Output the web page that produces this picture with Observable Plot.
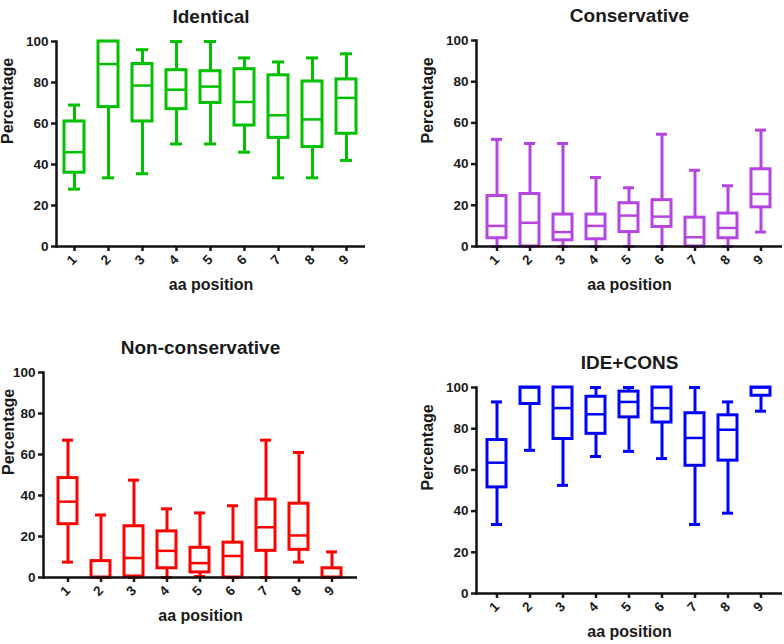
<!DOCTYPE html>
<html><head><meta charset="utf-8">
<script src="https://cdn.jsdelivr.net/npm/d3@7"></script>
<script src="https://cdn.jsdelivr.net/npm/@observablehq/plot@0.6"></script>
<style>
body{margin:0;background:#fff;}
#wrap{position:relative;width:784px;height:644px;overflow:hidden;background:#fff;}
.panel{position:absolute;}
</style></head><body><div id="wrap"></div>
<script>
// categories
const positions = ["1","2","3","4","5","6","7","8","9"];
const yTicks = [0, 20, 40, 60, 80, 100];
// box statistics per aa position: [min, q1, median, q3, max]
const identical = [
  [28, 36, 46, 61, 69],
  [33.5, 68, 89, 100, 100],
  [35.5, 61, 78.5, 89, 96],
  [50, 67, 76.5, 86, 100],
  [50, 70, 78, 85.5, 100],
  [46, 59, 70.5, 86.5, 92],
  [33.5, 53, 64, 83.5, 90],
  [33.5, 48.5, 62, 80.5, 92],
  [42, 55, 72.5, 81.5, 94]
];
const conservative = [
  [0, 4, 10, 24.5, 52],
  [0, 0, 11.5, 25.5, 50],
  [0, 3, 7, 15.5, 50],
  [0, 3.5, 10, 15.5, 33.5],
  [0, 7, 15, 21, 28.5],
  [0, 9.5, 14.5, 22.5, 54.5],
  [0, 0, 4.5, 14, 37],
  [0, 4, 9, 16, 29.5],
  [7, 19, 25.5, 37.5, 56.5]
];
const nonConservative = [
  [7.5, 26, 37, 48.5, 67],
  [0, 0, 0, 8, 30.5],
  [0, 0.5, 9.5, 25, 47.5],
  [0, 4.5, 13, 22.5, 33.5],
  [0.5, 2.5, 7, 14.5, 31.5],
  [0, 0, 10.5, 17, 35],
  [0, 13, 24.5, 38, 67],
  [7.5, 13.5, 20.5, 36, 61],
  [0, 0, 0, 4.5, 12.5]
];
const ideCons = [
  [33.5, 51.5, 63.5, 74.5, 93],
  [69.5, 92, 100, 100, 100],
  [52.5, 75, 90, 100, 100],
  [66.5, 77.5, 87, 95.5, 100],
  [69, 85.5, 93, 98, 100],
  [65.5, 83, 90, 100, 100],
  [33.5, 62, 75.5, 87.5, 100],
  [39, 64.5, 79.5, 86.5, 93],
  [88.5, 96, 100, 100, 100]
];

const panels = [
  {title: "Identical", stats: identical, color: "#00c000",
   left: 0, top: 0, width: 392, height: 300, mt: 41, mb: 54, ml: 56, mr: 27, po: 0.22, yDx: -49},
  {title: "Conservative", stats: conservative, color: "#b445e0",
   left: 392, top: 0, width: 392, height: 300, mt: 40, mb: 54, ml: 84, mr: 2, po: 0.22, yDx: -49},
  {title: "Non-conservative", stats: nonConservative, color: "#ff0000",
   left: 0, top: 320, width: 392, height: 324, mt: 52, mb: 67, ml: 43, mr: 35, po: 0.34, yDx: -35},
  {title: "IDE+CONS", stats: ideCons, color: "#0000ff",
   left: 392, top: 320, width: 392, height: 324, mt: 67, mb: 51, ml: 84, mr: 2, po: 0.22, yDx: -49}
];

const wrap = document.getElementById("wrap");
const font = "'Liberation Sans', Arial, sans-serif";

for (const p of panels) {
  const data = positions.map((pos, i) => ({
    pos, min: p.stats[i][0], q1: p.stats[i][1], med: p.stats[i][2], q3: p.stats[i][3], max: p.stats[i][4]
  }));
  const c = p.color;
  const chart = Plot.plot({
    width: p.width, height: p.height,
    marginTop: p.mt, marginBottom: p.mb, marginLeft: p.ml, marginRight: p.mr,
    style: {fontFamily: font, fontWeight: "bold", fontSize: "13.5px", color: "#1a1a1a", background: "white", overflow: "visible"},
    x: {domain: positions, paddingInner: 0.41, paddingOuter: p.po},
    y: {domain: [0, 100]},
    marks: [
      Plot.ruleX(data, {x: "pos", y1: "q3", y2: "max", stroke: c, strokeWidth: 3}),
      Plot.ruleX(data, {x: "pos", y1: "min", y2: "q1", stroke: c, strokeWidth: 3}),
      Plot.tickY(data, {x: "pos", y: "max", stroke: c, strokeWidth: 3, insetLeft: 4, insetRight: 4}),
      Plot.tickY(data, {x: "pos", y: "min", stroke: c, strokeWidth: 3, insetLeft: 4, insetRight: 4}),
      Plot.barY(data, {x: "pos", y1: "q1", y2: "q3", fill: "white", stroke: c, strokeWidth: 3}),
      Plot.tickY(data, {x: "pos", y: "med", stroke: c, strokeWidth: 2.5}),
      Plot.axisY({ticks: yTicks, tickSize: 5, tickPadding: 3, strokeWidth: 2.5, label: null, fontSize: 13.5}),
      Plot.axisX({tickRotate: -45, tickSize: 5, tickPadding: 6, strokeWidth: 2.5, label: null, fontSize: 13.5}),
      Plot.frame({anchor: "left", strokeWidth: 2.5, stroke: "#111"}),
      Plot.ruleY([0], {strokeWidth: 2.5, stroke: "#111"}),
      Plot.text(["Percentage"], {frameAnchor: "left", rotate: -90, dx: p.yDx, fontSize: 16, fontWeight: "bold"}),
      Plot.text(["aa position"], {frameAnchor: "bottom", dy: 43, fontSize: 16, fontWeight: "bold"}),
      Plot.text([p.title], {frameAnchor: "top", dy: -32, fontSize: 19, fontWeight: "bold"})
    ]
  });
  const div = document.createElement("div");
  div.className = "panel";
  div.style.left = p.left + "px";
  div.style.top = p.top + "px";
  div.appendChild(chart);
  wrap.appendChild(div);
}
</script></body></html>
